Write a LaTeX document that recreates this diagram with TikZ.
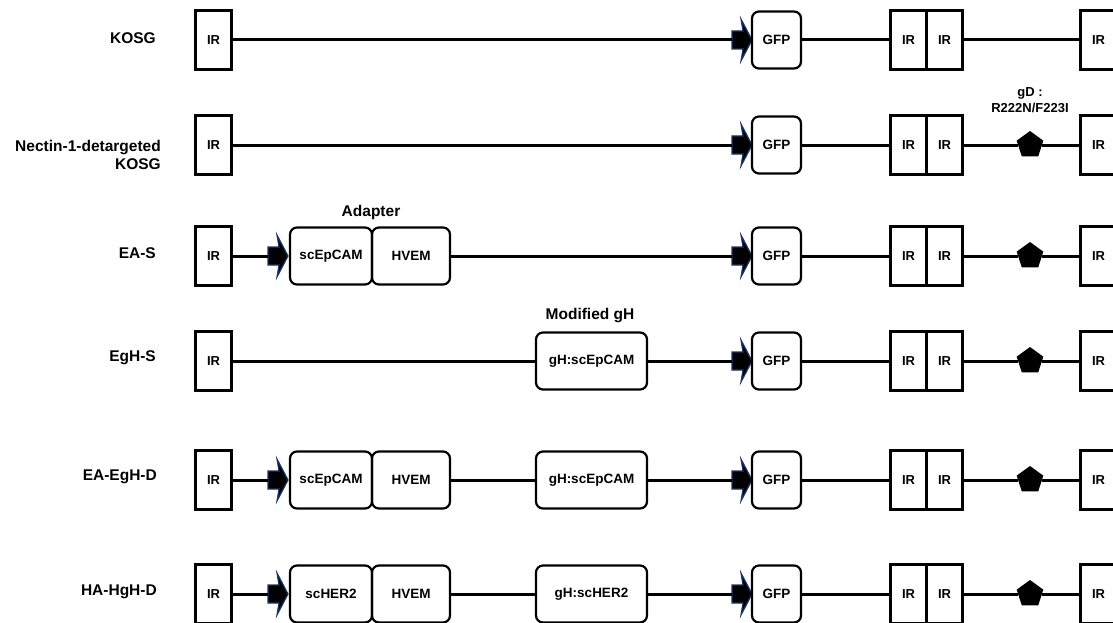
\documentclass[tikz,border=0pt]{standalone}
\usepackage{fontspec}
\setmainfont{Liberation Sans}
\usetikzlibrary{shapes.geometric}
\definecolor{promedge}{RGB}{30,55,105}
\tikzset{
 irbox/.style={draw, line width=3pt, minimum width=36pt, minimum height=59pt, inner sep=0pt, outer sep=0pt, font=\fontsize{13}{15}\selectfont\bfseries, anchor=west},
 rbox/.style={draw, line width=2.2pt, rounded corners=7pt, minimum height=57pt, inner sep=0pt, outer sep=0pt, font=\fontsize{13.5}{15}\selectfont\bfseries, anchor=west},
 conn/.style={line width=3pt},
 rowlbl/.style={anchor=east, align=right, font=\fontsize{15.5}{18}\selectfont\bfseries, inner sep=0pt},
 hdr/.style={font=\fontsize{15.5}{18}\selectfont\bfseries, inner sep=0pt},
 gdlbl/.style={font=\fontsize{13}{16}\selectfont\bfseries, inner sep=0pt, align=center},
 pent/.style={regular polygon, regular polygon sides=5, fill=black, minimum size=28pt, inner sep=0pt, outer sep=0pt},
 prom/.style={fill=black, draw=promedge, line width=1.2pt, line join=miter},
}
% promoter arrow: name, tip x, y
\newcommand\promoter[3]{%
 \path[prom] (#2-20,#3-9) -- (#2-9,#3-9) -- (#2-11,#3-21) -- (#2,#3) -- (#2-11,#3+21) -- (#2-9,#3+9) -- (#2-20,#3+9) -- cycle;
 \coordinate (#1in) at (#2-20,#3);
 \coordinate (#1tip) at (#2,#3);}
% right part of a row: id, y
\newcommand\rowright[2]{%
 \promoter{pg#1}{752}{#2}
 \node[rbox, minimum width=49pt] (gfp#1) at (752,#2) {GFP};
 \node[irbox] (irA#1) at (890.5,#2) {IR};
 \node[irbox] (irB#1) at (irA#1.east) {IR};
 \node[irbox] (irR#1) at (1080.5,#2) {IR};
 \draw[conn] (gfp#1) -- (irA#1);}
\begin{document}
\begin{tikzpicture}[x=1pt,y=-1pt]
\useasboundingbox (0,0) rectangle (1113,623);
\clip (0,0) rectangle (1113,623);
% ---------- row 1: KOSG
\node[rowlbl] (l1) at (156,38) {KOSG};
\node[irbox] (irL1) at (195.5,40) {IR};
\rowright{1}{40}
\draw[conn] (irL1) -- (pg1in);
\draw[conn] (irB1) -- (irR1);
% ---------- row 2: Nectin-1-detargeted KOSG
\node[rowlbl] (l2) at (161,155) {Nectin-1-detargeted\\KOSG};
\node[irbox] (irL2) at (195.5,145) {IR};
\rowright{2}{145}
\node[pent] (pd2) at (1030,145) {};
\node[gdlbl] (gd) at (1030,100) {gD :\\R222N/F223I};
\draw[conn] (irL2) -- (pg2in);
\draw[conn] (irB2) -- (pd2) -- (irR2);
% ---------- row 3: EA-S
\node[rowlbl] (l3) at (156,253) {EA-S};
\node[irbox] (irL3) at (195.5,256) {IR};
\promoter{pa3}{288}{256}
\node[rbox, minimum width=82pt] (sc3) at (290,256) {scEpCAM};
\node[rbox, minimum width=78pt] (hv3) at (sc3.east) {HVEM};
\node[hdr] (ad) at (371,212) {Adapter};
\rowright{3}{256}
\node[pent] (pd3) at (1030,256) {};
\draw[conn] (irL3) -- (pa3in);
\draw[conn] (hv3) -- (pg3in);
\draw[conn] (irB3) -- (pd3) -- (irR3);
% ---------- row 4: EgH-S
\node[rowlbl] (l4) at (156,358) {EgH-S};
\node[irbox] (irL4) at (195.5,361) {IR};
\node[rbox, minimum width=111pt] (gh4) at (536,361) {gH:scEpCAM};
\node[hdr] (mg) at (590,316) {Modified gH};
\rowright{4}{361}
\node[pent] (pd4) at (1030,361) {};
\draw[conn] (irL4) -- (gh4);
\draw[conn] (gh4) -- (pg4in);
\draw[conn] (irB4) -- (pd4) -- (irR4);
% ---------- row 5: EA-EgH-D
\node[rowlbl] (l5) at (157,477) {EA-EgH-D};
\node[irbox] (irL5) at (195.5,480) {IR};
\promoter{pa5}{288}{480}
\node[rbox, minimum width=82pt] (sc5) at (290,480) {scEpCAM};
\node[rbox, minimum width=78pt] (hv5) at (sc5.east) {HVEM};
\node[rbox, minimum width=111pt] (gh5) at (536,480) {gH:scEpCAM};
\rowright{5}{480}
\node[pent] (pd5) at (1030,480) {};
\draw[conn] (irL5) -- (pa5in);
\draw[conn] (hv5) -- (gh5);
\draw[conn] (gh5) -- (pg5in);
\draw[conn] (irB5) -- (pd5) -- (irR5);
% ---------- row 6: HA-HgH-D
\node[rowlbl] (l6) at (157,592) {HA-HgH-D};
\node[irbox] (irL6) at (195.5,594) {IR};
\promoter{pa6}{288}{594}
\node[rbox, minimum width=82pt] (sc6) at (290,594) {scHER2};
\node[rbox, minimum width=78pt] (hv6) at (sc6.east) {HVEM};
\node[rbox, minimum width=111pt] (gh6) at (536,594) {gH:scHER2};
\rowright{6}{594}
\node[pent] (pd6) at (1030,594) {};
\draw[conn] (irL6) -- (pa6in);
\draw[conn] (hv6) -- (gh6);
\draw[conn] (gh6) -- (pg6in);
\draw[conn] (irB6) -- (pd6) -- (irR6);
\end{tikzpicture}
\end{document}
